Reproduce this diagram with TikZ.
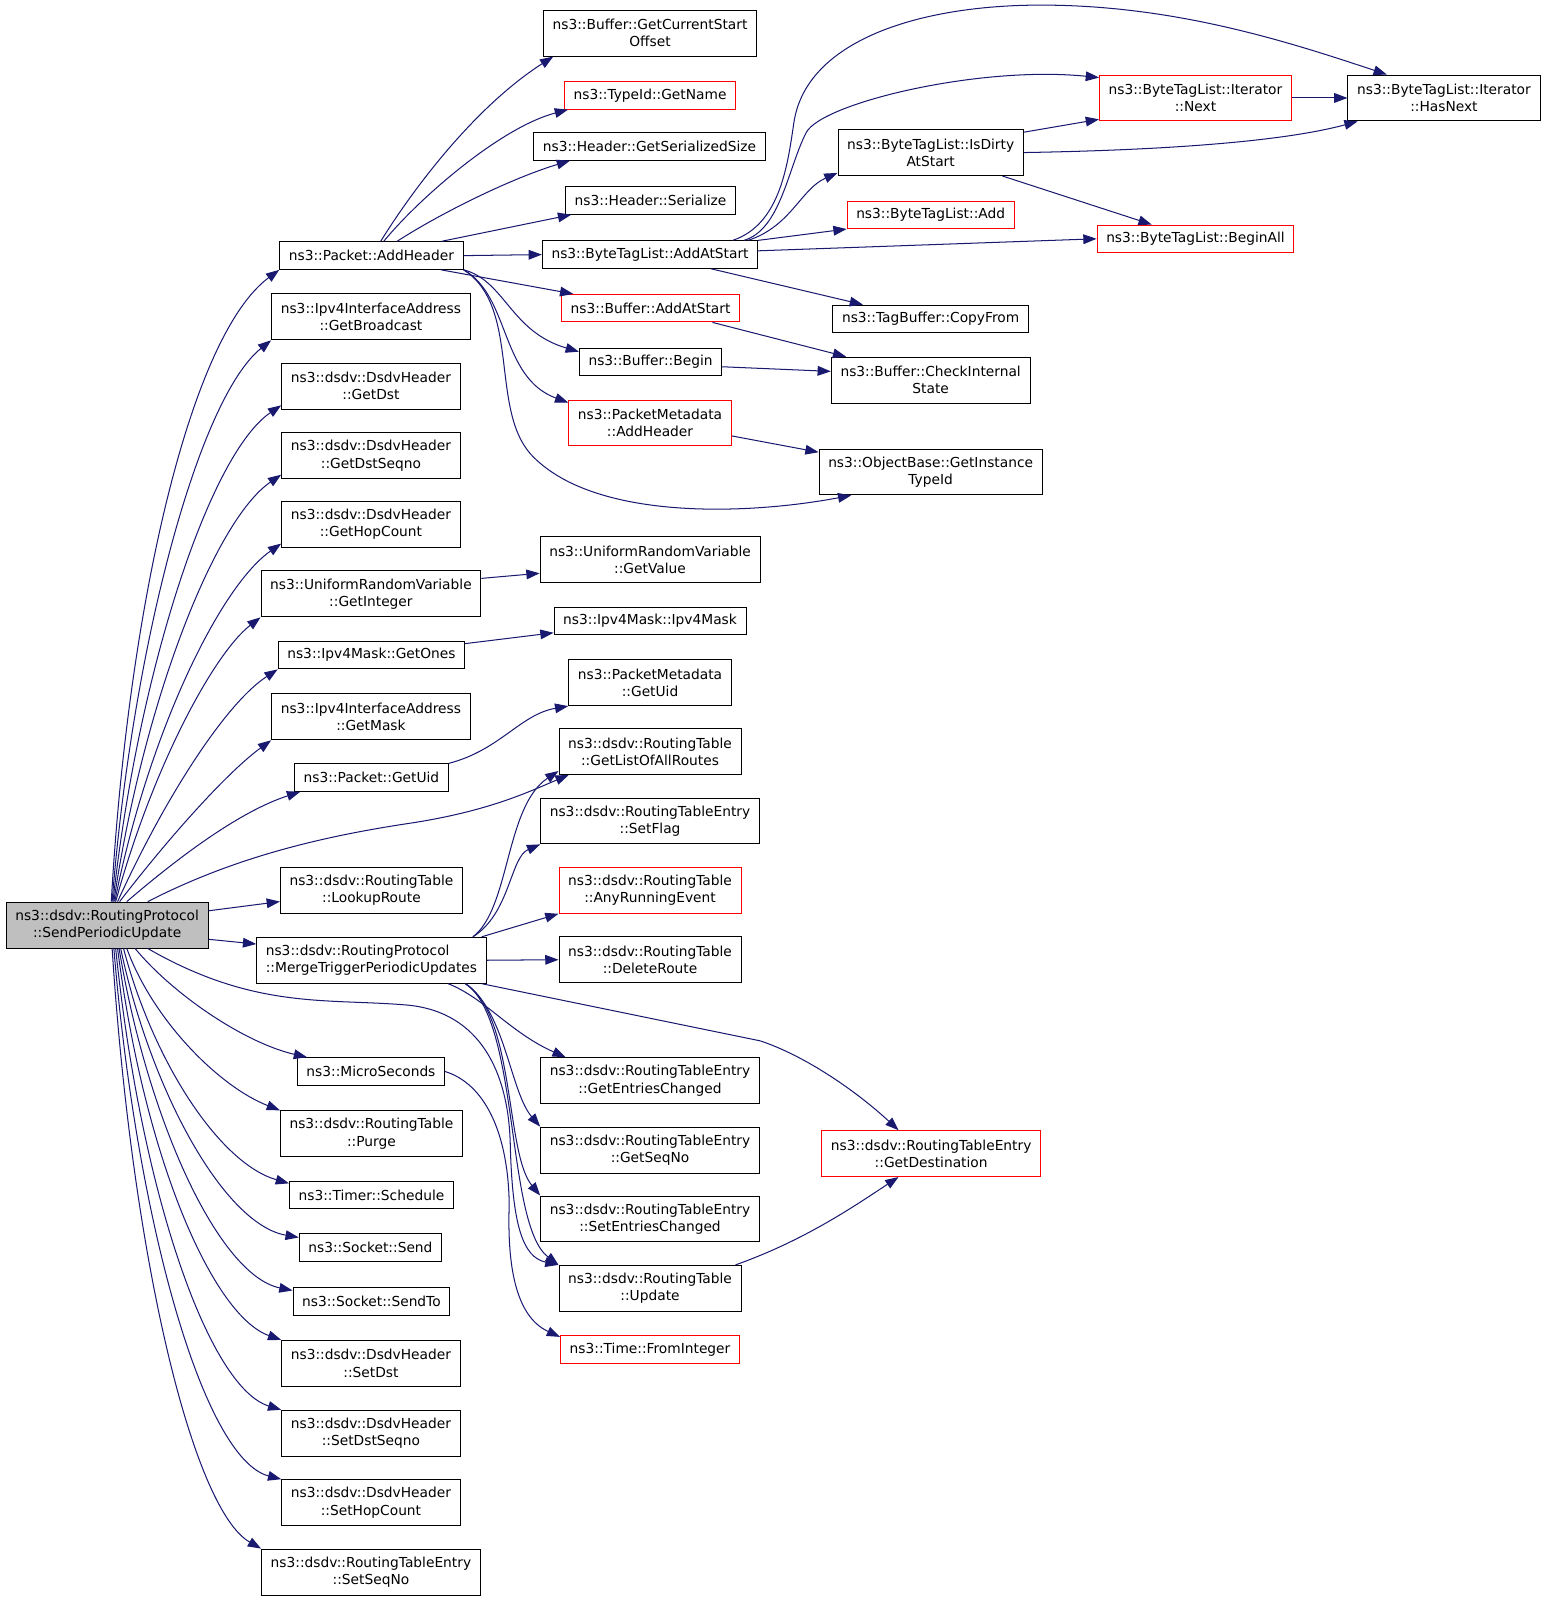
\documentclass[tikz,border=0pt]{standalone}
\usepackage{fontspec}
\setmainfont{DejaVu Sans}
\usetikzlibrary{arrows.meta}
\definecolor{edgeblue}{HTML}{191970}
\definecolor{rootgray}{HTML}{BFBFBF}
\newcommand\fnfont{\fontsize{13.5pt}{16.8pt}\selectfont}

\begin{document}
\begin{tikzpicture}[x=1pt,y=-1pt,
  fn/.style={draw=black,fill=white,line width=0.9pt,inner xsep=9pt,inner ysep=2pt,minimum height=27pt,align=center,font=\fnfont},
  two/.style={minimum height=45pt},
  redbox/.style={draw=red},
  rootbox/.style={fill=rootgray},
  call/.style={edgeblue,line width=1pt,-{Triangle[length=13pt,width=9.5pt]}}]
\useasboundingbox (0,0) rectangle (1516,1565);

\node[fn,two,rootbox] (root) at (105,906.5) {ns3::dsdv::RoutingProtocol\\::SendPeriodicUpdate};

\node[fn] (addhdr) at (364,250.5) {ns3::Packet::AddHeader};
\node[fn,two] (getbcast) at (363.5,310.5) {ns3::Ipv4InterfaceAddress\\::GetBroadcast};
\node[fn,two] (getdst) at (363.5,378.5) {ns3::dsdv::DsdvHeader\\::GetDst};
\node[fn,two] (getdstseq) at (363.5,446.5) {ns3::dsdv::DsdvHeader\\::GetDstSeqno};
\node[fn,two] (gethop) at (363.5,514) {ns3::dsdv::DsdvHeader\\::GetHopCount};
\node[fn,two] (getint) at (363.5,582) {ns3::UniformRandomVariable\\::GetInteger};
\node[fn] (getones) at (364,642) {ns3::Ipv4Mask::GetOnes};
\node[fn,two] (getmask) at (363.5,702.5) {ns3::Ipv4InterfaceAddress\\::GetMask};
\node[fn] (pktuid) at (364,762) {ns3::Packet::GetUid};
\node[fn,two] (lookup) at (364,872.5) {ns3::dsdv::RoutingTable\\::LookupRoute};
\node[fn,two,align=left] (merge) at (364,941) {ns3::dsdv::RoutingProtocol\\::MergeTriggerPeriodicUpdates};
\node[fn] (micro) at (363.5,1050) {ns3::MicroSeconds};
\node[fn,two] (purge) at (364,1111) {ns3::dsdv::RoutingTable\\::Purge};
\node[fn] (sched) at (364,1171) {ns3::Timer::Schedule};
\node[fn] (send) at (363,1222.5) {ns3::Socket::Send};
\node[fn] (sendto) at (364,1275.5) {ns3::Socket::SendTo};
\node[fn,two] (setdst) at (363.5,1336) {ns3::dsdv::DsdvHeader\\::SetDst};
\node[fn,two] (setdstseq) at (363.5,1404.5) {ns3::dsdv::DsdvHeader\\::SetDstSeqno};
\node[fn,two] (sethop) at (363.5,1472.5) {ns3::dsdv::DsdvHeader\\::SetHopCount};
\node[fn,two] (setseq) at (363.5,1540.5) {ns3::dsdv::RoutingTableEntry\\::SetSeqNo};

\node[fn,two] (curstart) at (637,32.5) {ns3::Buffer::GetCurrentStart\\Offset};
\node[fn,redbox] (typename) at (637,93.5) {ns3::TypeId::GetName};
\node[fn] (sersize) at (636.5,143.5) {ns3::Header::GetSerializedSize};
\node[fn] (serialize) at (637.5,196.5) {ns3::Header::Serialize};
\node[fn] (btladd) at (637,249.5) {ns3::ByteTagList::AddAtStart};
\node[fn,redbox] (bufadd) at (637.5,302) {ns3::Buffer::AddAtStart};
\node[fn] (bufbegin) at (637.5,354.5) {ns3::Buffer::Begin};
\node[fn,two,redbox] (pmaddhdr) at (637,414.5) {ns3::PacketMetadata\\::AddHeader};
\node[fn,two] (getvalue) at (637,548.5) {ns3::UniformRandomVariable\\::GetValue};
\node[fn] (ipv4mask) at (637,608.5) {ns3::Ipv4Mask::Ipv4Mask};
\node[fn,two] (pmuid) at (637,669) {ns3::PacketMetadata\\::GetUid};
\node[fn,two] (listall) at (637,736.5) {ns3::dsdv::RoutingTable\\::GetListOfAllRoutes};
\node[fn,two] (setflag) at (637,804.5) {ns3::dsdv::RoutingTableEntry\\::SetFlag};
\node[fn,two,redbox] (anyrun) at (637,872.5) {ns3::dsdv::RoutingTable\\::AnyRunningEvent};
\node[fn,two] (delroute) at (637,940.5) {ns3::dsdv::RoutingTable\\::DeleteRoute};
\node[fn,two] (getentries) at (637,1059) {ns3::dsdv::RoutingTableEntry\\::GetEntriesChanged};
\node[fn,two] (getseq) at (637,1127) {ns3::dsdv::RoutingTableEntry\\::GetSeqNo};
\node[fn,two] (setentries) at (637,1194.5) {ns3::dsdv::RoutingTableEntry\\::SetEntriesChanged};
\node[fn,two] (update) at (637,1262.5) {ns3::dsdv::RoutingTable\\::Update};
\node[fn,redbox] (fromint) at (637,1322.5) {ns3::Time::FromInteger};

\node[fn,two] (isdirty) at (912,149.5) {ns3::ByteTagList::IsDirty\\AtStart};
\node[fn,redbox] (btlplus) at (912,210.5) {ns3::ByteTagList::Add};
\node[fn] (copyfrom) at (912,312.5) {ns3::TagBuffer::CopyFrom};
\node[fn,two] (checkint) at (912,372.5) {ns3::Buffer::CheckInternal\\State};
\node[fn,two] (getinst) at (912,462.5) {ns3::ObjectBase::GetInstance\\TypeId};
\node[fn,two,redbox] (getdest) at (912.5,1130.5) {ns3::dsdv::RoutingTableEntry\\::GetDestination};

\node[fn,two,redbox] (itnext) at (1171.5,96) {ns3::ByteTagList::Iterator\\::Next};
\node[fn,redbox] (beginall) at (1171.5,234) {ns3::ByteTagList::BeginAll};
\node[fn,two] (hasnext) at (1415,96) {ns3::ByteTagList::Iterator\\::HasNext};

% calls of SendPeriodicUpdate
\draw[call] (root.80) .. controls (125,600) and (185,330) .. (addhdr.south west);
\draw[call] (root.78) .. controls (130,630) and (195,390) .. (getbcast.south west);
\draw[call] (root.76) .. controls (135,660) and (205,445) .. (getdst.192);
\draw[call] (root.74) .. controls (140,690) and (210,510) .. (getdstseq.192);
\draw[call] (root.72) .. controls (145,720) and (215,575) .. (gethop.192);
\draw[call] (root.70) .. controls (150,750) and (210,640) .. (getint.south west);
\draw[call] (root.66) .. controls (160,785) and (220,690) .. (getones.south west);
\draw[call] (root.62) .. controls (170,815) and (225,755) .. (getmask.south west);
\draw[call] (root.50) .. controls (175,840) and (235,795) .. ([xshift=6pt]pktuid.south west);
\draw[call] (root.30) .. controls (220,845) and (300,822) .. (400,807) .. controls (480,795) and (520,775) .. ([xshift=10pt]listall.south west);
\draw[call] (root.8) -- (lookup.187);
\draw[call] (root.-8) -- (merge.172);
\draw[call] (root.-40) .. controls (170,975) and (240,1022) .. ([xshift=10pt]micro.north west);
\draw[call] (root.-50) .. controls (150,1000) and (215,1065) .. (purge.north west);
\draw[call] (root.-55) .. controls (150,1040) and (215,1140) .. (sched.172);
\draw[call] (root.-60) .. controls (148,1070) and (220,1200) .. (send.172);
\draw[call] (root.-63) .. controls (145,1100) and (215,1250) .. (sendto.172);
\draw[call] (root.-66) .. controls (142,1140) and (210,1290) .. (setdst.north west);
\draw[call] (root.-70) .. controls (138,1170) and (205,1360) .. (setdstseq.north west);
\draw[call] (root.-74) .. controls (134,1200) and (200,1430) .. (sethop.north west);
\draw[call] (root.-78) .. controls (130,1240) and (190,1480) .. (setseq.north west);
\draw[call] (root.-30) .. controls (250,990) and (320,978) .. (400,985) .. controls (470,992) and (498,1050) .. (500,1120) .. controls (502,1200) and (512,1232) .. (update.north west);

% calls of MergeTriggerPeriodicUpdates
\draw[call] (merge.13) .. controls (500,890) and (495,790) .. (listall.192);
\draw[call] (merge.13) .. controls (500,895) and (500,840) .. (setflag.south west);
\draw[call] (merge.12) -- (anyrun.south west);
\draw[call] (merge.east) -- (delroute.west);
\draw[call] (merge.-17) .. controls (475,978) and (500,1012) .. ([xshift=25pt]getentries.north west);
\draw[call] (merge.-14) .. controls (495,990) and (500,1070) .. (getseq.north west);
\draw[call] (merge.-14) .. controls (505,995) and (495,1130) .. (setentries.north west);
\draw[call] (merge.-14) .. controls (510,1000) and (495,1200) .. (update.north west);
\draw[call] (merge.-12) -- (745,1020) .. controls (790,1035) and (840,1070) .. ([xshift=-32pt]getdest.north);
\draw[call] ([xshift=-6pt]update.north east) .. controls (790,1215) and (840,1180) .. ([xshift=-32pt]getdest.south);

\draw[call] (micro.east) .. controls (475,1062) and (498,1110) .. (499,1180) .. controls (497,1240) and (505,1290) .. (fromint.172);
\draw[call] (getint.8) -- (getvalue.187);
\draw[call] (getones.7) -- (ipv4mask.187);
\draw[call] (pktuid.north east) .. controls (490,735) and (510,700) .. (pmuid.south west);

% calls of Packet::AddHeader
\draw[call] ([xshift=9pt]addhdr.north) .. controls (405,185) and (465,105) .. ([xshift=10pt]curstart.south west);
\draw[call] ([xshift=12pt]addhdr.north) .. controls (410,195) and (490,125) .. ([xshift=4pt]typename.south west);
\draw[call] ([xshift=25pt]addhdr.north) .. controls (430,210) and (500,175) .. ([xshift=36pt]sersize.south west);
\draw[call] ([xshift=-22pt]addhdr.north east) -- ([xshift=6pt]serialize.south west);
\draw[call] (addhdr.east) -- (btladd.west);
\draw[call] ([xshift=-22pt]addhdr.south east) -- ([xshift=12pt]bufadd.north west);
\draw[call] (addhdr.south east) .. controls (495,275) and (500,325) .. (bufbegin.172);
\draw[call] (addhdr.south east) .. controls (500,290) and (490,370) .. (pmaddhdr.166);
\draw[call] (addhdr.south east) .. controls (510,300) and (480,400) .. (520,445) .. controls (580,510) and (730,505) .. ([xshift=32pt]getinst.south west);

% calls of ByteTagList::AddAtStart
\draw[call] ([xshift=-25pt]btladd.north east) .. controls (765,220) and (772,160) .. (778,120) .. controls (790,40) and (900,5) .. (1020,5) .. controls (1150,5) and (1260,40) .. ([xshift=-56pt]hasnext.north);
\draw[call] ([xshift=-14pt]btladd.north east) .. controls (765,225) and (772,165) .. (790,130) .. controls (805,101) and (960,64) .. ([yshift=-3pt]itnext.north west);
\draw[call] ([xshift=-10pt]btladd.north east) .. controls (775,222) and (785,185) .. ([yshift=3pt]isdirty.south west);
\draw[call] (btladd.north east) -- (btlplus.south west);
\draw[call] (btladd.2) -- (beginall.west);
\draw[call] ([xshift=-46pt]btladd.south east) -- ([xshift=30pt]copyfrom.north west);

\draw[call] ([yshift=-3pt]isdirty.north east) -- ([yshift=2pt]itnext.south west);
\draw[call] (isdirty.east) .. controls (1150,147) and (1260,138) .. ([xshift=10pt]hasnext.south west);
\draw[call] ([xshift=-21pt]isdirty.south east) -- ([xshift=54pt]beginall.north west);
\draw[call] (itnext.east) -- (hasnext.west);

\draw[call] ([xshift=-27pt]bufadd.south east) -- ([xshift=15pt]checkint.north west);
\draw[call] (bufbegin.-4) -- (checkint.175);
\draw[call] (pmaddhdr.-9) -- (getinst.170);
\end{tikzpicture}
\end{document}
